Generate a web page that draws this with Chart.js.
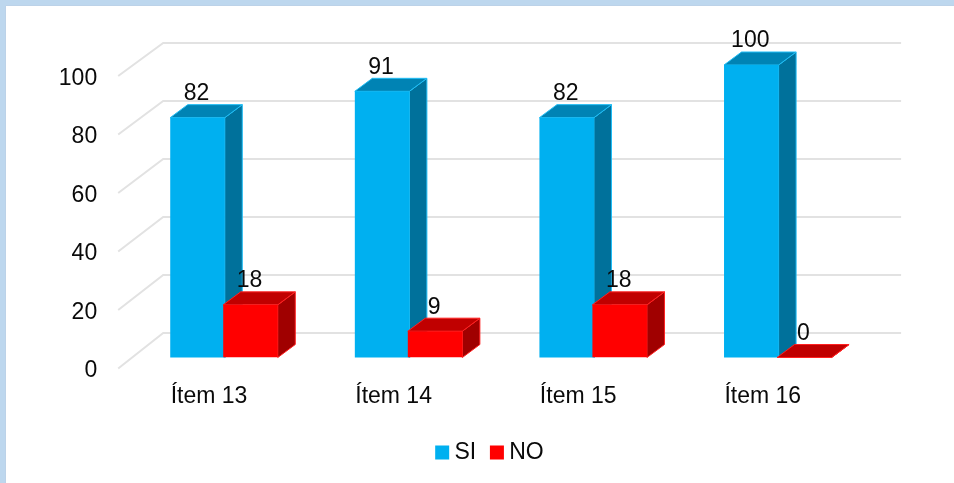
<!DOCTYPE html>
<html>
<head>
<meta charset="utf-8">
<title>Items</title>
<script src="https://cdn.jsdelivr.net/npm/chart.js@4"></script>
<style>
  html, body { margin: 0; padding: 0; background: #bdd7ee; overflow: hidden; }
  #paper { position: absolute; left: 6px; top: 6px; width: 948px; height: 477px; background: #fff; box-shadow: 0 0 1px #b8bcc8; }
  #wrap { position: absolute; left: 0; top: 0; width: 954px; height: 483px; }
</style>
</head>
<body>
<div id="paper"></div>
<div id="wrap"><canvas id="myChart" width="954" height="483"></canvas></div>
<script>
const categories = ['Ítem 13', 'Ítem 14', 'Ítem 15', 'Ítem 16'];
const si_values = [82, 91, 82, 100];
const no_values = [18, 9, 18, 0];
const y_ticks = [0, 20, 40, 60, 80, 100];

const FONT = { family: '"Liberation Sans", Arial, sans-serif', size: 23 };
const TEXT = '#0a0a0a';
// fake 3D: how far the back of a bar sits from its front
const DEPTH_X = 17.5;
const DEPTH_Y = 13;
const SHADES = {
  SI: { side: '#00719b', top: '#0083b4', edge: '#1fbdf5' },
  NO: { side: '#a00000', top: '#c00000', edge: '#ff2020' }
};
const LEGEND_SHIFT = 57.5;

function poly(ctx, pts, fill, edge) {
  ctx.beginPath();
  ctx.moveTo(pts[0][0], pts[0][1]);
  pts.slice(1).forEach(p => ctx.lineTo(p[0], p[1]));
  ctx.closePath();
  ctx.fillStyle = fill;
  ctx.fill();
  ctx.strokeStyle = edge;
  ctx.lineWidth = 1;
  ctx.stroke();
}

function drawFaces(chart, index) {
  const ctx = chart.ctx;
  const shade = SHADES[chart.data.datasets[index].label];
  chart.getDatasetMeta(index).data.forEach(el => {
    const b = el.getProps(['x', 'y', 'base', 'width'], true);
    const l = b.x - b.width / 2, r = b.x + b.width / 2;
    poly(ctx, [[r, b.y], [r + DEPTH_X, b.y - DEPTH_Y], [r + DEPTH_X, b.base - DEPTH_Y], [r, b.base]], shade.side, shade.edge);
    poly(ctx, [[l, b.y], [l + DEPTH_X, b.y - DEPTH_Y], [r + DEPTH_X, b.y - DEPTH_Y], [r, b.y]], shade.top, shade.edge);
  });
}

// walls of the box: lines run from the front edge to the back, then along the back
const wallGrid = {
  id: 'wallGrid',
  beforeDatasetsDraw(chart) {
    const ctx = chart.ctx, yScale = chart.scales.y, area = chart.chartArea;
    ctx.save();
    ctx.strokeStyle = '#e2e2e2';
    ctx.lineWidth = 2;
    y_ticks.forEach(v => {
      const py = yScale.getPixelForValue(v);
      const backY = 333 - (area.bottom - py) * 0.9915;
      ctx.beginPath();
      ctx.moveTo(area.left - 13.5, py + 11);
      ctx.lineTo(area.left + 31.5, backY);
      ctx.lineTo(area.right + 31, backY);
      ctx.stroke();
    });
    ctx.restore();
  }
};

// chart.js paints the first dataset last, but here NO has to lie over SI.
// so SI is painted by hand when NO comes up, and its own turn is skipped
const barFaces = {
  id: 'barFaces',
  beforeDatasetDraw(chart, args) {
    if (args.index === 0) return false;
    const ctx = chart.ctx;
    ctx.save();
    drawFaces(chart, 0);
    chart.getDatasetMeta(0).controller.draw();
    drawFaces(chart, args.index);
    ctx.restore();
  }
};

const valueLabels = {
  id: 'valueLabels',
  afterDatasetsDraw(chart) {
    const ctx = chart.ctx;
    ctx.save();
    ctx.font = FONT.size + 'px ' + FONT.family;
    ctx.fillStyle = TEXT;
    ctx.textAlign = 'center';
    ctx.textBaseline = 'middle';
    chart.data.datasets.forEach((ds, i) => {
      chart.getDatasetMeta(i).data.forEach((el, j) => {
        const b = el.getProps(['x', 'y'], true);
        ctx.fillText(ds.data[j], b.x - 1, b.y - 24);
      });
    });
    ctx.restore();
  }
};

// the legend sits right of the canvas middle
const legendShift = {
  id: 'legendShift',
  afterLayout(chart) {
    chart.legend.left += LEGEND_SHIFT;
    chart.legend.right += LEGEND_SHIFT;
  }
};

const ctx = document.getElementById('myChart').getContext('2d');
const myChart = new Chart(ctx, {
  type: 'bar',
  data: {
    labels: categories,
    datasets: [
      { label: 'SI', data: si_values, backgroundColor: '#00b0f0' },
      { label: 'NO', data: no_values, backgroundColor: '#ff0000' }
    ]
  },
  plugins: [wallGrid, barFaces, valueLabels, legendShift],
  options: {
    responsive: false,
    animation: false,
    layout: { padding: { left: 0, right: 83.9, top: 65, bottom: 9 } },
    // bars overlap a little, as in the picture
    datasets: { bar: { categoryPercentage: 0.574, barPercentage: 1.03 } },
    plugins: {
      tooltip: { enabled: false },
      legend: {
        position: 'bottom',
        labels: {
          font: FONT,
          color: TEXT,
          padding: 20,
          // thin box with a thick border, so the text sits close to the swatch
          boxWidth: 1.5,
          boxHeight: 1.5,
          generateLabels: chart => Chart.defaults.plugins.legend.labels.generateLabels(chart).map(item => {
            item.strokeStyle = item.fillStyle;
            item.lineWidth = 12.5;
            return item;
          })
        }
      }
    },
    scales: {
      x: {
        afterFit: scale => { scale.height = 63.5; },
        grid: { display: false },
        border: { display: false },
        ticks: { font: FONT, color: TEXT, padding: 17.5, labelOffset: -15, maxRotation: 0 }
      },
      y: {
        min: 0,
        max: 100,
        afterFit: scale => { scale.width = 131.7; },
        grid: { display: false, drawTicks: false },
        border: { display: false },
        ticks: { font: FONT, color: TEXT, stepSize: 20, padding: 34.5, labelOffset: 13.5 }
      }
    }
  }
});
</script>
</body>
</html>
